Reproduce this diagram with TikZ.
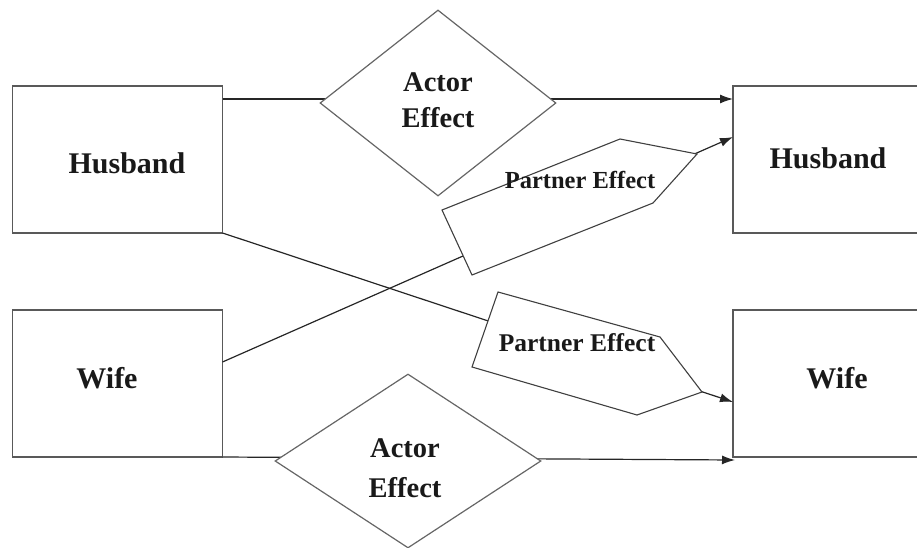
\documentclass[tikz,border=0pt]{standalone}
\usepackage{fontspec}
\setmainfont{Liberation Serif}
\usetikzlibrary{shapes.geometric,arrows.meta}

\tikzset{
  person/.style={draw=black!65, line width=1.4pt, fill=white, rectangle, inner sep=0pt},
  effect/.style={draw=black!60, line width=1.2pt, fill=white, diamond, inner sep=0pt},
  pbox/.style={draw=black!75, line width=1.1pt, fill=white},
  link/.style={draw=black!85, line width=1.2pt},
  tip/.style={-{Latex[length=13pt,width=9pt]}},
  big/.style={font=\bfseries\fontsize{30}{36}\selectfont, text=black!90, anchor=base, inner sep=0pt},
  mid/.style={font=\bfseries\fontsize{28.5}{36}\selectfont, text=black!90, anchor=base, inner sep=0pt},
  small/.style={font=\bfseries\fontsize{24.5}{28}\selectfont, text=black!90, anchor=base, inner sep=0pt},
}

\begin{document}
\begin{tikzpicture}[x=1pt, y=-1pt]
\useasboundingbox (0,0) rectangle (917,548);
\clip (0,0) rectangle (917,548);

% the four person boxes
\node[person, minimum width=210pt, minimum height=147pt] (hl) at (117.5,159.5) {};
\node[person, minimum width=210pt, minimum height=147pt] (wl) at (117.5,383.5) {};
\node[person, minimum width=210pt, minimum height=147pt] (hr) at (838,159.5) {};
\node[person, minimum width=210pt, minimum height=147pt] (wr) at (838,383.5) {};

% connector end points on the box borders
\coordinate (hlA) at (222.5,99);
\coordinate (hlP) at (222.5,233);
\coordinate (wlP) at (222.5,362);
\coordinate (wlA) at (222.5,457);
\coordinate (hrA) at (733,99);
\coordinate (hrP) at (733,137);
\coordinate (wrP) at (733,402);
\coordinate (wrA) at (735,460);

% connectors
\draw[link, tip] (hlA) -- (hrA);
\draw[link, tip] (wlA) -- (wrA);
\draw[link, tip] (wlP) -- (hrP);
\draw[link, tip] (hlP) -- (wrP);

% actor effect diamonds
\node[effect, minimum width=236pt, minimum height=186pt] (ae1) at (438,103) {};
\node[effect, minimum width=266pt, minimum height=174pt] (ae2) at (408,461) {};

% partner effect arrow boxes
\draw[pbox] (442,210) -- (472,275) -- (653,203) -- (697,154) -- (620,139) -- cycle;
\draw[pbox] (498,292) -- (472,367) -- (637,415) -- (702,392) -- (660,337) -- cycle;

% labels
\node[big] (t1) at (127,173) {Husband};
\node[big] (t2) at (107,388) {Wife};
\node[big] (t3) at (828,168) {Husband};
\node[big] (t4) at (837,388) {Wife};

\node[mid] (t5) at (438,92) {Actor};
\node[mid] (t6) at (438,128) {Effect};
\node[mid] (t7) at (405,457) {Actor};
\node[mid] (t8) at (405,497) {Effect};

\node[small] (t9) at (580,188) {Partner Effect};
\node[small, font=\bfseries\fontsize{25.5}{30}\selectfont] (t10) at (577,351) {Partner Effect};
\end{tikzpicture}
\end{document}
